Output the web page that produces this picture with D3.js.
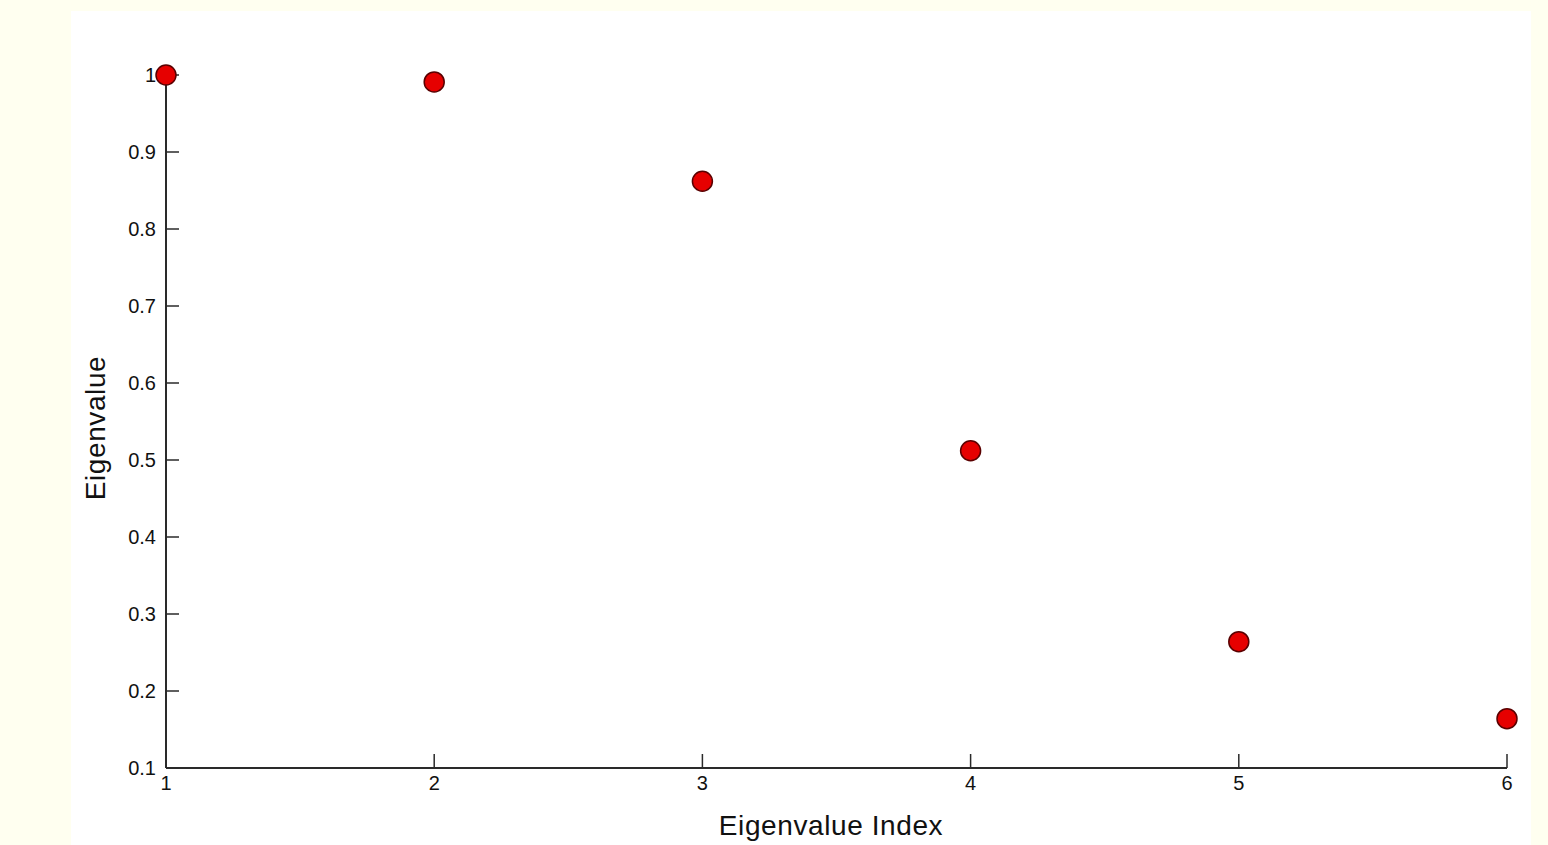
<!DOCTYPE html>
<html>
<head>
<meta charset="utf-8">
<script src="https://cdnjs.cloudflare.com/ajax/libs/d3/7.8.5/d3.min.js"></script>
<style>
  html, body { margin: 0; padding: 0; background: #fffff0; }
  svg { display: block; }
  text { font-family: "Liberation Sans", Arial, Helvetica, sans-serif; fill: #111; }
</style>
</head>
<body>
<svg id="chart" width="1548" height="845"></svg>
<script>
// Eigenvalue spectrum (normalised), one value per index
const indices = [1, 2, 3, 4, 5, 6];
const eigenvalues = [1.0, 0.991, 0.862, 0.512, 0.264, 0.164];
const xTicks = [1, 2, 3, 4, 5, 6];
const yTicks = [0.1, 0.2, 0.3, 0.4, 0.5, 0.6, 0.7, 0.8, 0.9, 1];
const xTitle = "Eigenvalue Index";
const yTitle = "Eigenvalue";

const svg = d3.select("#chart");

// white figure panel on the ivory page
svg.append("rect")
  .attr("x", 71).attr("y", 11)
  .attr("width", 1460).attr("height", 834)
  .attr("fill", "#ffffff");

const x = d3.scaleLinear().domain([1, 6]).range([166, 1507]);
const y = d3.scaleLinear().domain([0.1, 1]).range([768, 75]);

const axisColor = "#2a2a2a";

// x axis: ticks point inward (upwards)
const gx = svg.append("g").attr("transform", "translate(0,768)");
gx.append("line")
  .attr("x1", x(1)).attr("x2", x(6))
  .attr("stroke", axisColor).attr("stroke-width", 2);
gx.selectAll("line.tick").data(xTicks).join("line")
  .attr("class", "tick")
  .attr("x1", d => x(d)).attr("x2", d => x(d))
  .attr("y1", 0).attr("y2", -14)
  .attr("stroke", axisColor).attr("stroke-width", 1.5);
gx.selectAll("text").data(xTicks).join("text")
  .attr("x", d => x(d)).attr("y", 22)
  .attr("text-anchor", "middle")
  .attr("font-size", 20)
  .text(d => d3.format("d")(d));

// y axis: ticks point inward (rightwards)
const gy = svg.append("g").attr("transform", "translate(166,0)");
gy.append("line")
  .attr("y1", y(0.1)).attr("y2", y(1))
  .attr("stroke", axisColor).attr("stroke-width", 2);
gy.selectAll("line.tick").data(yTicks).join("line")
  .attr("class", "tick")
  .attr("y1", d => y(d)).attr("y2", d => y(d))
  .attr("x1", 0).attr("x2", 13)
  .attr("stroke", axisColor).attr("stroke-width", 1.5);
gy.selectAll("text").data(yTicks).join("text")
  .attr("x", -10).attr("y", d => y(d) + 7)
  .attr("text-anchor", "end")
  .attr("font-size", 20)
  .text(d => d === 1 ? "1" : d3.format(".1f")(d));

// axis titles
svg.append("text")
  .attr("x", 831).attr("y", 835)
  .attr("text-anchor", "middle")
  .attr("font-size", 28)
  .attr("letter-spacing", 0.6)
  .text(xTitle);
svg.append("text")
  .attr("transform", "translate(105,428) rotate(-90)")
  .attr("text-anchor", "middle")
  .attr("font-size", 28)
  .attr("letter-spacing", 0.6)
  .text(yTitle);

// markers
svg.append("g").selectAll("circle")
  .data(indices.map((d, i) => ({ k: d, v: eigenvalues[i] })))
  .join("circle")
  .attr("cx", d => x(d.k))
  .attr("cy", d => y(d.v))
  .attr("r", 10)
  .attr("fill", "#e60000")
  .attr("stroke", "#5a0000")
  .attr("stroke-width", 1.5);
</script>
</body>
</html>
